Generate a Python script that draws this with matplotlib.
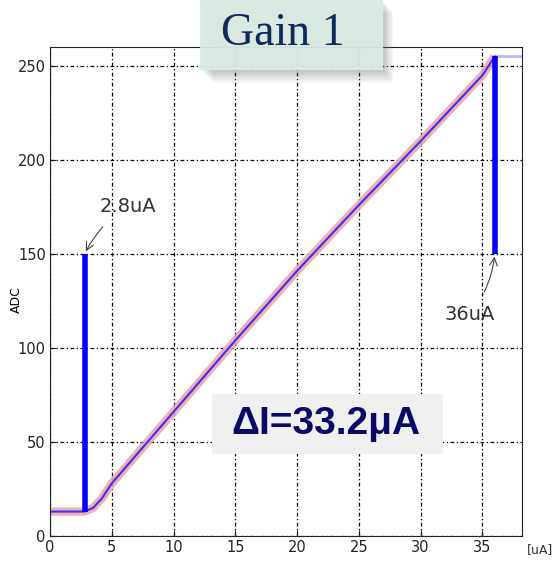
import matplotlib
matplotlib.use("Agg")
import matplotlib.pyplot as plt
from matplotlib.patches import Rectangle

# ADC response vs injected current
curr = [0, 1, 2, 2.8, 3.5, 4.2, 5, 10, 15, 20, 25, 30, 35, 36]
adc = [13, 13, 13, 13, 15, 20, 28, 66, 104, 141, 176, 210, 245, 255]
sat_curr = [36, 38.2]
sat_adc = [255, 255]

# threshold markers
i_low, i_high = 2.8, 36
low_bar = (13, 150)
high_bar = (150, 255)
x_ticks = [0, 5, 10, 15, 20, 25, 30, 35]
y_ticks = [0, 50, 100, 150, 200, 250]

W, H = 558, 563
fig = plt.figure(figsize=(W / 100, H / 100), dpi=100)
ax = fig.add_axes([50 / W, 1 - 536 / H, 472 / W, 489 / H])

ax.plot(curr, adc, color="#f4a0a0", lw=6, alpha=0.85, solid_capstyle="butt")
ax.plot(curr, adc, color="#3333ff", lw=1.5)
ax.plot(sat_curr, sat_adc, color="#8888ff", lw=2, alpha=0.6)
ax.vlines([i_low], low_bar[0], low_bar[1], color="#0000ff", lw=4)
ax.vlines([i_high], high_bar[0], high_bar[1], color="#0000ff", lw=4)

ax.set_xlim(0, 38.2)
ax.set_ylim(0, 260)
ax.set_xticks(x_ticks)
ax.set_yticks(y_ticks)
ax.tick_params(labelsize=10.5, colors="#222222", length=4, direction="in", pad=3)
ax.grid(True, color="black", linestyle=(0, (3, 2, 1, 2)), lw=0.9)
for s in ax.spines.values():
    s.set_color("#222222")
fig.text(16 / W, 1 - 300 / H, "ADC", fontsize=9, rotation=90,
         ha="center", va="center")
fig.text(540 / W, 1 - 550 / H, "[uA]", fontsize=9, color="#333333",
         ha="center", va="center")

ax.annotate("2.8uA", xy=(i_low, low_bar[1]), xytext=(6.3, 175), fontsize=14,
            color="#333333", ha="center", va="center",
            arrowprops=dict(arrowstyle="->", color="#444444", lw=0.8,
                            shrinkA=8, connectionstyle="arc3,rad=0.15"))
ax.annotate("36uA", xy=(i_high, high_bar[0]), xytext=(34.0, 118), fontsize=14,
            color="#333333", ha="center", va="center",
            arrowprops=dict(arrowstyle="->", color="#444444", lw=0.8,
                            shrinkA=8, connectionstyle="arc3,rad=0.15"))

# delta-I box
fig.patches.append(Rectangle((212 / W, 1 - 454 / H), 231 / W, 60 / H,
                             transform=fig.transFigure, facecolor="#f0f0f0",
                             edgecolor="none", zorder=5))
fig.text(326 / W, 1 - 424 / H, "ΔI=33.2μA", fontsize=28, fontweight="bold",
         color="#0a0a66", ha="center", va="center", zorder=6,
         family="Liberation Sans")

# title box with a soft shadow
for k in range(8):
    g = 2 + k * 1.5
    fig.patches.append(Rectangle(((200 + g) / W, 1 - (70 + g) / H), (183 - g * 0.2) / W, 70 / H,
                                 transform=fig.transFigure, facecolor="#777777",
                                 edgecolor="none", alpha=0.06, zorder=5))
fig.patches.append(Rectangle((200 / W, 1 - 70 / H), 183 / W, 70 / H,
                             transform=fig.transFigure, facecolor="#dbebe4",
                             edgecolor="none", alpha=0.93, zorder=6))
fig.text(283 / W, 1 - 34 / H, "Gain 1", fontsize=33, color="#0d2a5c",
         ha="center", va="center", family="Liberation Serif", zorder=7)

fig.savefig("out.png", dpi=100)
